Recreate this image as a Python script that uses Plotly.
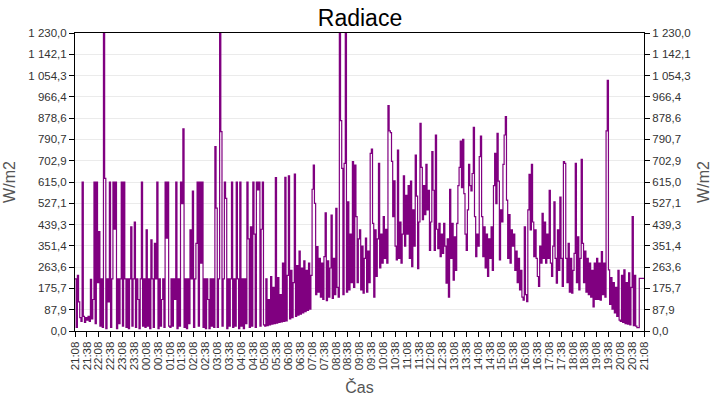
import plotly.graph_objects as go
import pandas as pd

# Radiation values (W/m2), 3-minute steps, one list per hour starting 21:08
h2108 = [215, 15, 230, 120, 55, 40, 615, 60, 35, 55, 45, 60, 40, 213, 50, 130, 615, 30, 615, 200]
h2208 = [410, 20, 215, 15, 1230, 630, 10, 215, 120, 615, 15, 215, 615, 420, 615, 10, 215, 30, 215, 615]
h2308 = [20, 615, 215, 15, 215, 10, 215, 430, 20, 215, 450, 15, 215, 130, 10, 215, 615, 20, 215, 15]
h0008 = [417, 20, 215, 10, 376, 215, 15, 362, 215, 615, 10, 215, 20, 130, 215, 15, 615, 383, 615, 20]
h0108 = [15, 215, 20, 215, 130, 615, 10, 215, 20, 615, 526, 834, 15, 215, 10, 215, 30, 417, 215, 577]
h0208 = [15, 215, 362, 615, 20, 615, 280, 615, 15, 215, 10, 215, 130, 10, 215, 20, 215, 15, 761, 507]
h0308 = [15, 215, 1230, 823, 20, 215, 615, 547, 10, 215, 20, 215, 615, 15, 215, 20, 615, 215, 10, 615]
h0408 = [20, 215, 10, 215, 30, 615, 380, 15, 430, 20, 615, 400, 15, 615, 582, 615, 20, 420, 615, 25]
h0508 = [20, 215, 22, 130, 25, 225, 28, 180, 30, 633, 32, 220, 35, 150, 38, 280, 40, 634, 42, 230]
h0608 = [640, 50, 250, 55, 200, 648, 60, 270, 65, 330, 70, 260, 75, 290, 80, 250, 85, 280, 90, 230]
h0708 = [585, 685, 527, 150, 348, 160, 300, 140, 280, 130, 307, 488, 125, 290, 140, 260, 478, 135, 300, 150]
h0808 = [506, 180, 140, 1230, 868, 671, 150, 692, 1230, 160, 533, 170, 400, 200, 699, 180, 685, 472, 200, 380]
h0908 = [417, 170, 350, 156, 300, 383, 160, 330, 200, 733, 751, 444, 140, 417, 225, 380, 692, 260, 400, 280]
h1008 = [472, 300, 420, 280, 930, 826, 819, 700, 472, 620, 350, 293, 747, 300, 450, 280, 400, 640, 350, 560]
h1108 = [400, 600, 300, 619, 266, 500, 350, 726, 557, 257, 450, 857, 675, 460, 600, 480, 688, 500, 581, 333]
h1208 = [450, 740, 581, 333, 809, 420, 340, 444, 307, 400, 320, 444, 350, 197, 380, 140, 585, 300, 444, 210]
h1308 = [389, 250, 444, 600, 675, 784, 592, 791, 567, 400, 333, 500, 688, 600, 578, 650, 841, 472, 307, 400]
h1408 = [350, 720, 804, 472, 307, 430, 260, 400, 225, 380, 300, 430, 250, 600, 733, 526, 816, 619, 293, 500]
h1508 = [450, 688, 809, 885, 540, 300, 480, 280, 417, 350, 400, 250, 330, 200, 300, 170, 250, 140, 127, 430]
h1608 = [150, 121, 500, 647, 417, 688, 450, 307, 417, 300, 225, 184, 350, 280, 486, 300, 450, 280, 400, 300]
h1708 = [581, 280, 225, 350, 533, 300, 197, 417, 250, 553, 300, 184, 699, 692, 300, 200, 362, 160, 300, 156]
h1808 = [250, 320, 692, 200, 389, 170, 300, 709, 362, 200, 330, 160, 300, 150, 280, 140, 250, 99, 280, 130]
h1908 = [300, 130, 280, 127, 328, 150, 280, 140, 826, 1035, 252, 110, 220, 90, 200, 75, 180, 60, 250, 45]
h2008 = [40, 230, 35, 252, 30, 200, 28, 240, 25, 180, 472, 22, 230, 20, 14, 14, 217, 217, 217, 217]
h2108_end = [217]

y_tick_values = [0, 87.9, 175.7, 263.6, 351.4, 439.3, 527.1, 615.0, 702.9, 790.7,
                 878.6, 966.4, 1054.3, 1142.1, 1230.0]
y_tick_labels = ["0,0", "87,9", "175,7", "263,6", "351,4", "439,3", "527,1", "615,0",
                 "702,9", "790,7", "878,6", "966,4", "1 054,3", "1 142,1", "1 230,0"]
x_tick_labels = ["21:08", "21:38", "22:08", "22:38", "23:08", "23:38", "00:08", "00:38",
                 "01:08", "01:38", "02:08", "02:38", "03:08", "03:38", "04:08", "04:38",
                 "05:08", "05:38", "06:08", "06:38", "07:08", "07:38", "08:08", "08:38",
                 "09:08", "09:38", "10:08", "10:38", "11:08", "11:38", "12:08", "12:38",
                 "13:08", "13:38", "14:08", "14:38", "15:08", "15:38", "16:08", "16:38",
                 "17:08", "17:38", "18:08", "18:38", "19:08", "19:38", "20:08", "20:38",
                 "21:08"]

values = (h2108 + h2208 + h2308 + h0008 + h0108 + h0208 + h0308 + h0408 + h0508 + h0608
          + h0708 + h0808 + h0908 + h1008 + h1108 + h1208 + h1308 + h1408 + h1508 + h1608
          + h1708 + h1808 + h1908 + h2008 + h2108_end)
times = pd.date_range("2024-01-01 21:08", periods=len(values), freq="3min")
x_tick_positions = pd.date_range("2024-01-01 21:08", periods=len(x_tick_labels), freq="30min")

FONT = "Liberation Sans"
TICK_COLOR = "#333333"

fig = go.Figure()
fig.add_trace(go.Scatter(x=times, y=values, mode="lines",
                         line=dict(color="#800080", width=1.2, shape="hv"), showlegend=False,
                         hoverinfo="skip"))
fig.add_trace(go.Scatter(x=[times[0]], y=[None], yaxis="y2", mode="lines",
                         showlegend=False, hoverinfo="skip"))

fig.update_layout(
    width=720, height=400,
    margin=dict(l=75, r=76, t=33, b=69),
    paper_bgcolor="white", plot_bgcolor="white",
    font=dict(family=FONT, size=11.5, color=TICK_COLOR),
    title=dict(text="Radiace", x=0.5, xanchor="center", y=0.955, yanchor="middle",
               yref="container", font=dict(family=FONT, size=23, color="black")),
    xaxis=dict(
        range=[times[0], times[-1]], tickvals=x_tick_positions, ticktext=x_tick_labels,
        tickangle=-90, ticks="outside", ticklen=5, tickcolor="black",
        showline=True, linecolor="black", linewidth=1, mirror=True,
        showgrid=False, zeroline=False, automargin=False,
        title=dict(text="Čas", standoff=12, font=dict(size=16, color="#555555")),
        tickfont=dict(size=11.5, color=TICK_COLOR),
    ),
    yaxis=dict(
        range=[0, 1230], tickvals=y_tick_values, ticktext=y_tick_labels,
        ticks="outside", ticklen=5, tickcolor="black",
        showline=True, linecolor="black", linewidth=1,
        showgrid=True, gridcolor="#ebebeb", gridwidth=1, zeroline=False, automargin=False,
        title=dict(text="W/m2", standoff=8, font=dict(size=16, color="#555555")),
        tickfont=dict(size=11.5, color=TICK_COLOR),
    ),
    yaxis2=dict(
        range=[0, 1230], tickvals=y_tick_values, ticktext=y_tick_labels,
        overlaying="y", side="right",
        ticks="outside", ticklen=5, tickcolor="black",
        showline=True, linecolor="black", linewidth=1,
        showgrid=False, zeroline=False, automargin=False,
        title=dict(text="W/m2", standoff=8, font=dict(size=16, color="#555555")),
        tickfont=dict(size=11.5, color=TICK_COLOR),
    ),
)

fig.write_html("out.html")
